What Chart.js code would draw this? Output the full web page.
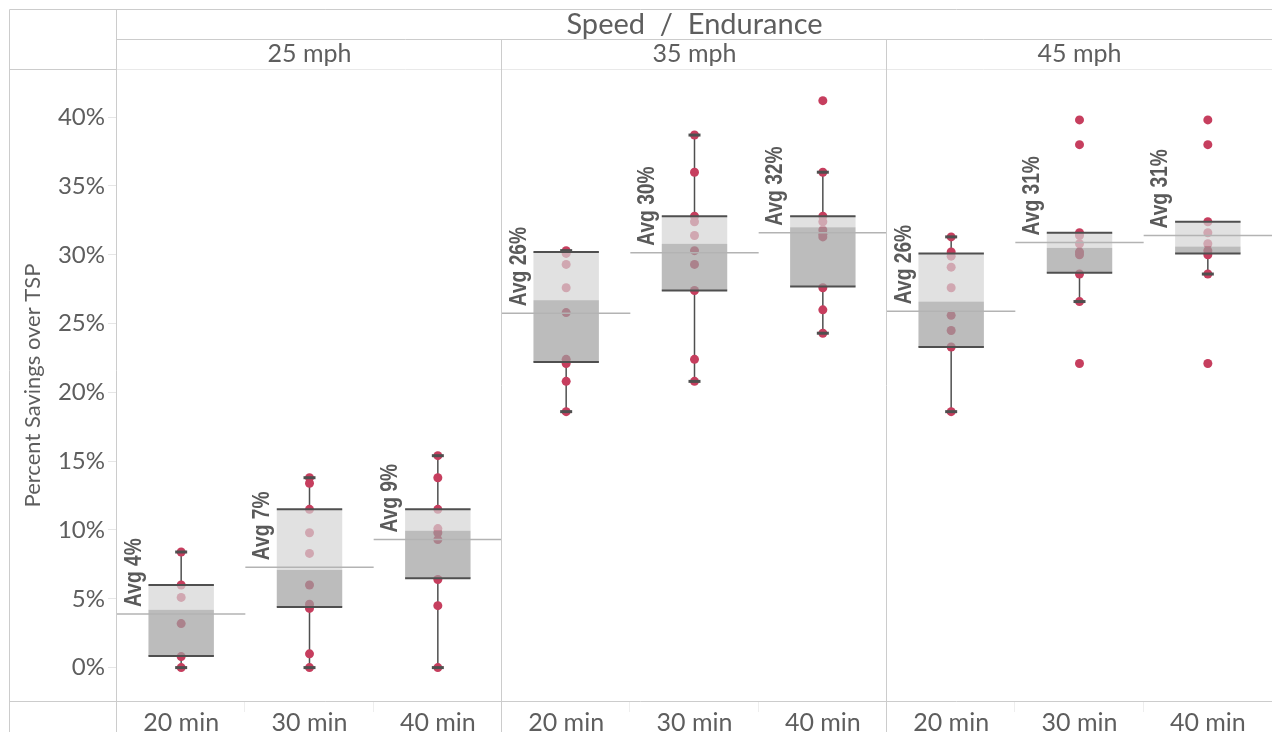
<!DOCTYPE html>
<html>
<head>
<meta charset="utf-8">
<script src="https://cdn.jsdelivr.net/npm/chart.js@4.4.1/dist/chart.umd.min.js"></script>
<style>
    html, body { margin: 0; padding: 0; background: #fff; }
    #box-canvas { display: block; }
</style>
</head>
<body>
<canvas id="box-canvas" width="1272" height="732"></canvas>
<script>
const speeds = ['25 mph', '35 mph', '45 mph'];
const endurances = ['20 min', '30 min', '40 min'];

// one list of runs per column, left to right (speed, then endurance)
const savings = [
    [8.4, 6.0, 5.1, 3.2, 0.8, 0.0],
    [13.8, 13.4, 11.5, 9.8, 8.3, 6.0, 4.6, 4.3, 1.0, 0.0],
    [15.4, 13.8, 11.5, 10.1, 9.8, 9.3, 6.4, 4.5, 0.0],
    [30.3, 30.1, 29.3, 27.6, 25.8, 22.4, 22.1, 20.8, 18.6],
    [38.7, 36.0, 32.8, 32.4, 31.4, 30.3, 29.3, 27.4, 22.4, 20.8],
    [41.2, 36.0, 32.8, 32.4, 31.8, 31.5, 31.3, 27.6, 26.0, 24.3],
    [31.3, 30.2, 29.9, 29.1, 27.6, 25.6, 24.5, 23.3, 18.6],
    [39.8, 38.0, 31.6, 31.4, 30.8, 30.2, 30.0, 28.6, 26.6, 22.1],
    [39.8, 38.0, 32.4, 31.6, 30.8, 30.3, 30.0, 28.6, 22.1]
];

const lowerQuartile = [0.85, 4.4, 6.5, 22.2, 27.4, 27.7, 23.3, 28.7, 30.1];
const median = [4.2, 7.1, 9.95, 26.7, 30.8, 32.0, 26.6, 30.5, 30.6];
const upperQuartile = [6.0, 11.5, 11.5, 30.2, 32.8, 32.8, 30.1, 31.6, 32.4];
const whiskerLow = [0, 0, 0, 18.6, 20.8, 24.3, 18.6, 26.6, 28.6];
const whiskerHigh = [8.4, 13.8, 15.4, 30.3, 38.7, 36.0, 31.3, 31.6, 32.4];
const average = [3.9, 7.3, 9.3, 25.75, 30.15, 31.6, 25.9, 30.9, 31.4];

const yTicks = [0, 5, 10, 15, 20, 25, 30, 35, 40];

const textColor = '#5e5e5e';
const ruleColor = '#cccccc';
const mainFont = 'Lato, "Open Sans", sans-serif';
const avgFont = '"Liberation Sans", Arial, sans-serif';

const colCount = speeds.length * endurances.length;
const dots = [];
savings.forEach((runs, i) => runs.forEach(v => dots.push({ x: i + 0.5, y: v })));

function hLine(ctx, x1, x2, y, color, width) {
    ctx.strokeStyle = color;
    ctx.lineWidth = width;
    ctx.beginPath();
    ctx.moveTo(x1, y);
    ctx.lineTo(x2, y);
    ctx.stroke();
}

function vLine(ctx, x, y1, y2, color, width) {
    ctx.strokeStyle = color;
    ctx.lineWidth = width;
    ctx.beginPath();
    ctx.moveTo(x, y1);
    ctx.lineTo(x, y2);
    ctx.stroke();
}

const boxPlot = {
    id: 'boxPlot',
    beforeDatasetsDraw(chart) {
        const { ctx, scales: { x, y } } = chart;
        ctx.save();
        for (let i = 0; i < colCount; i++) {
            const cx = x.getPixelForValue(i + 0.5);
            if (whiskerHigh[i] > upperQuartile[i]) {
                vLine(ctx, cx, y.getPixelForValue(upperQuartile[i]), y.getPixelForValue(whiskerHigh[i]), '#4f4f4f', 1.5);
            }
            if (whiskerLow[i] < lowerQuartile[i]) {
                vLine(ctx, cx, y.getPixelForValue(lowerQuartile[i]), y.getPixelForValue(whiskerLow[i]), '#4f4f4f', 1.5);
            }
        }
        ctx.restore();
    },
    afterDatasetsDraw(chart) {
        const { ctx, scales: { x, y } } = chart;
        const colW = x.getPixelForValue(1) - x.getPixelForValue(0);
        const half = colW * 0.255;
        ctx.save();
        for (let i = 0; i < colCount; i++) {
            const cx = x.getPixelForValue(i + 0.5);
            const yQ1 = y.getPixelForValue(lowerQuartile[i]);
            const yMed = y.getPixelForValue(median[i]);
            const yQ3 = y.getPixelForValue(upperQuartile[i]);

            ctx.fillStyle = 'rgba(212, 212, 212, 0.7)';
            ctx.fillRect(cx - half, yQ3, half * 2, yMed - yQ3);
            ctx.fillStyle = 'rgba(160, 160, 160, 0.7)';
            ctx.fillRect(cx - half, yMed, half * 2, yQ1 - yMed);

            hLine(ctx, cx - half, cx + half, yQ3, '#4f4f4f', 2);
            hLine(ctx, cx - half, cx + half, yQ1, '#4f4f4f', 2);

            if (whiskerHigh[i] > upperQuartile[i]) {
                hLine(ctx, cx - 6, cx + 6, y.getPixelForValue(whiskerHigh[i]), '#4f4f4f', 3);
            }
            if (whiskerLow[i] < lowerQuartile[i]) {
                hLine(ctx, cx - 6, cx + 6, y.getPixelForValue(whiskerLow[i]), '#4f4f4f', 3);
            }

            // reference line + label
            const left = x.getPixelForValue(i);
            const yAvg = y.getPixelForValue(average[i]);
            hLine(ctx, left, left + colW, yAvg, '#b3b3b3', 1.5);

            ctx.save();
            ctx.translate(left + 17, yAvg - 7);
            ctx.rotate(-Math.PI / 2);
            ctx.scale(0.8, 1); // narrow the bold face
            ctx.fillStyle = '#5a5a5a';
            ctx.font = 'bold 24px ' + avgFont;
            ctx.textAlign = 'left';
            ctx.textBaseline = 'middle';
            ctx.fillText('Avg ' + Math.round(average[i]) + '%', 0, 0);
            ctx.restore();
        }
        ctx.restore();
    },
    afterDraw(chart) {
        const { ctx, chartArea, scales: { x } } = chart;
        const W = chart.width, H = chart.height;
        const L = chartArea.left, T = chartArea.top, B = chartArea.bottom;
        ctx.save();

        // table rules
        hLine(ctx, 9.5, W, 9.5, ruleColor, 1);
        vLine(ctx, 9.5, 9.5, H, ruleColor, 1);
        vLine(ctx, L - 0.5, 9.5, H, ruleColor, 1);
        hLine(ctx, L, W, 39.5, ruleColor, 1);
        hLine(ctx, 9.5, L, T + 0.5, ruleColor, 1);
        hLine(ctx, L, W, T + 0.5, '#e9e9e9', 1);
        hLine(ctx, 9.5, W, B - 0.5, ruleColor, 1);
        for (let p = 1; p < speeds.length; p++) {
            const px = Math.round(x.getPixelForValue(p * endurances.length)) - 0.5;
            vLine(ctx, px, 39.5, H, ruleColor, 1);
        }
        for (let i = 1; i < colCount; i++) {
            if (i % endurances.length === 0) continue;
            const px = Math.round(x.getPixelForValue(i)) - 0.5;
            vLine(ctx, px, B, B + 10, '#eeeeee', 1);
        }

        // headers
        ctx.fillStyle = textColor;
        ctx.textAlign = 'center';
        ctx.textBaseline = 'middle';
        ctx.font = '29px ' + mainFont;
        ctx.fillText('Speed  /  Endurance', (L + W) / 2, 25);
        ctx.font = '25px ' + mainFont;
        speeds.forEach((s, p) => {
            const px = x.getPixelForValue(p * endurances.length + endurances.length / 2);
            ctx.fillText(s, px, 54);
        });
        ctx.restore();
    }
};

new Chart(document.getElementById('box-canvas').getContext('2d'), {
    type: 'scatter',
    data: {
        datasets: [{
            data: dots,
            backgroundColor: '#c63e5e',
            borderWidth: 0,
            pointRadius: 4.5,
            pointHoverRadius: 4.5
        }]
    },
    options: {
        responsive: false,
        animation: false,
        layout: {
            autoPadding: false,
            padding: { left: 10, top: 69, right: 0, bottom: 0 }
        },
        plugins: {
            legend: { display: false },
            tooltip: { enabled: false }
        },
        scales: {
            x: {
                type: 'linear',
                min: 0,
                max: colCount,
                afterBuildTicks: scale => {
                    scale.ticks = savings.map((_, i) => ({ value: i + 0.5 }));
                },
                afterFit: scale => {
                    scale.height = 30;
                    scale.paddingLeft = 0;
                    scale.paddingRight = 0;
                },
                grid: { display: false },
                border: { display: false },
                ticks: {
                    autoSkip: false,
                    maxRotation: 0,
                    padding: -2,
                    color: textColor,
                    font: { family: mainFont, size: 25 },
                    callback: (v, i) => endurances[i % endurances.length]
                }
            },
            y: {
                min: -2.5,
                max: 43.5,
                afterBuildTicks: scale => {
                    scale.ticks = yTicks.map(v => ({ value: v }));
                },
                afterFit: scale => { scale.width = 107; },
                grid: {
                    drawOnChartArea: false,
                    tickLength: 9,
                    color: '#e6e6e6'
                },
                border: { display: false },
                ticks: {
                    padding: 3,
                    color: textColor,
                    font: { family: mainFont, size: 24 },
                    callback: v => v + '%'
                },
                title: {
                    display: true,
                    text: 'Percent Savings over TSP',
                    color: textColor,
                    font: { family: mainFont, size: 22 },
                    padding: { top: 10, bottom: 0 }
                }
            }
        }
    },
    plugins: [boxPlot]
});
</script>
</body>
</html>
